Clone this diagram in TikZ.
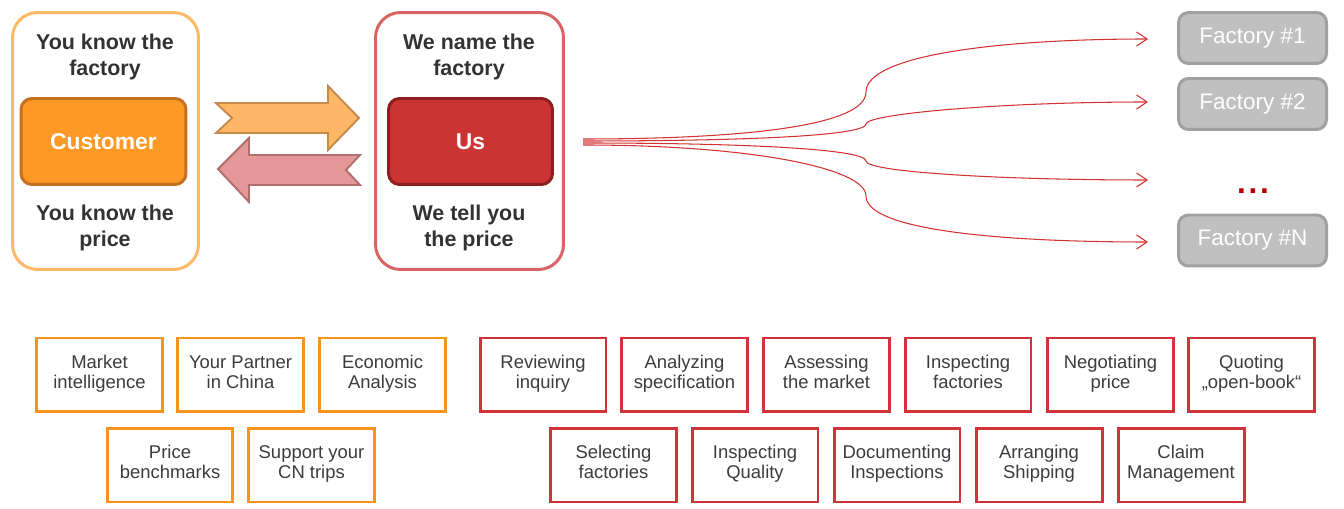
\documentclass[tikz,border=0pt]{standalone}
\usepackage{fontspec}
\setmainfont{Liberation Sans}
\usetikzlibrary{arrows.meta,positioning}

\definecolor{custlight}{RGB}{255,184,102}
\definecolor{custfill}{RGB}{255,153,38}
\definecolor{custdark}{RGB}{196,112,30}
\definecolor{uslight}{RGB}{217,100,100}
\definecolor{usfill}{RGB}{204,51,51}
\definecolor{usdark}{RGB}{140,32,32}
\definecolor{arrorange}{RGB}{255,183,102}
\definecolor{arrorangedark}{RGB}{196,138,76}
\definecolor{arrred}{RGB}{228,152,152}
\definecolor{arrreddark}{RGB}{176,110,110}
\definecolor{fanred}{RGB}{210,50,50}
\definecolor{facfill}{RGB}{192,192,192}
\definecolor{facborder}{RGB}{160,160,160}
\definecolor{dotred}{RGB}{180,0,0}
\definecolor{taskorange}{RGB}{247,148,29}
\definecolor{taskred}{RGB}{208,52,58}
\definecolor{txtdark}{RGB}{50,50,50}
\definecolor{txtgray}{RGB}{60,60,60}

\begin{document}
\begin{tikzpicture}[
    x=0.02cm, y=-0.02cm,
    side/.style={draw, line width=1.7pt, rounded corners=0.5cm, minimum width=3.72cm, minimum height=5.14cm},
    who/.style={draw, line width=1.7pt, rounded corners=0.22cm, minimum width=3.3cm, minimum height=1.72cm, text=white, font=\fontsize{13}{15}\selectfont\bfseries},
    claim/.style={align=center, text=txtdark, font=\fontsize{12.2}{14.7}\selectfont\bfseries},
    factory/.style={draw=facborder, fill=facfill, line width=1.7pt, rounded corners=0.2cm, minimum width=2.96cm, minimum height=1.02cm, text=white, font=\fontsize{12.8}{14}\selectfont},
    task/.style={draw, line width=1.7pt, minimum width=2.52cm, minimum height=1.48cm, align=center, execute at begin node=\strut, text=txtgray, font=\fontsize{10.5}{11.3}\selectfont},
    fan/.style={draw=fanred, line width=0.6pt, -{Straight Barb[length=6pt,width=8pt]}}
]
    \useasboundingbox (0,0) rectangle (1344,509);

    % Customer side
    \node[side, draw=custlight] (custside) at (105.5,141) {};
    \node[claim] (custfac) at (105,57) {You know the\\factory};
    \node[who, fill=custfill, draw=custdark] (cust) at (103.5,141.5) {Customer};
    \node[claim] (custprice) at (105,228) {You know the\\price};

    % Our side
    \node[side, draw=uslight, minimum width=3.76cm] (usside) at (469.5,141) {};
    \node[claim] (usfac) at (469,57) {We name the\\factory};
    \node[who, fill=usfill, draw=usdark, minimum width=3.28cm] (us) at (470.5,141.5) {Us};
    \node[claim] (usprice) at (469,228) {We tell you\\the price};

    % Block arrows
    \draw[fill=arrorange, draw=arrorangedark, line width=1.1pt]
        (216,103) -- (328,103) -- (328,86) -- (359,118) -- (328,150) -- (328,133) -- (216,133) -- (232,118) -- cycle;
    \draw[fill=arrred, draw=arrreddark, line width=1.1pt]
        (218,169) -- (249,138) -- (249,155) -- (360,155) -- (346,170) -- (360,185) -- (249,185) -- (249,202) -- cycle;

    % Factories
    \node[factory] (f1) at (1252.5,38) {Factory \#1};
    \node[factory] (f2) at (1252.5,104) {Factory \#2};
    \node[text=dotred, font=\fontsize{18}{20}\selectfont\bfseries] (fdots) at (1253,191) {.\kern1.5pt.\kern1.5pt.};
    \node[factory] (fn) at (1252.5,240.5) {Factory \#N};

    \coordinate (src1) at (583,139);
    \coordinate (src2) at (583,141);
    \coordinate (src3) at (583,143);
    \coordinate (src4) at (583,145);
    \coordinate (t1) at (1148,39);
    \coordinate (t2) at (1148,102);
    \coordinate (t3) at (1148,180);
    \coordinate (t4) at (1148,242);

    \draw[fan] (src1) .. controls (750,139) and (866,125) .. (866,92) .. controls (866,55) and (1000,39) .. (t1);
    \draw[fan] (src2) .. controls (760,141) and (866,135) .. (866,124) .. controls (866,114) and (1000,102) .. (t2);
    \draw[fan] (src3) .. controls (760,143) and (866,150) .. (866,161) .. controls (866,172) and (1000,180) .. (t3);
    \draw[fan] (src4) .. controls (750,145) and (866,168) .. (866,196) .. controls (866,230) and (1000,242) .. (t4);

    % Customer services
    \node[task, draw=taskorange] (o1) at (99.5,375) {Market\\intelligence\strut};
    \node[task, draw=taskorange] (o2) at (240.5,375) {Your Partner\\in China\strut};
    \node[task, draw=taskorange] (o3) at (382.5,375) {Economic\\Analysis\strut};
    \node[task, draw=taskorange] (o4) at (170,465) {Price\\benchmarks\strut};
    \node[task, draw=taskorange] (o5) at (311.5,465) {Support your\\CN trips\strut};

    % Our services
    \node[task, draw=taskred] (r1) at (543,375) {Reviewing\\inquiry\strut};
    \node[task, draw=taskred] (r2) at (684.5,375) {Analyzing\\specification\strut};
    \node[task, draw=taskred] (r3) at (826.5,375) {Assessing\\the market\strut};
    \node[task, draw=taskred] (r4) at (968,375) {Inspecting\\factories\strut};
    \node[task, draw=taskred] (r5) at (1110.5,375) {Negotiating\\price\strut};
    \node[task, draw=taskred] (r6) at (1251.5,375) {Quoting\\„open-book“\strut};
    \node[task, draw=taskred] (r7) at (613.5,465) {Selecting\\factories\strut};
    \node[task, draw=taskred] (r8) at (755,465) {Inspecting\\Quality\strut};
    \node[task, draw=taskred] (r9) at (897,465) {Documenting\\Inspections\strut};
    \node[task, draw=taskred] (r10) at (1039,465) {Arranging\\Shipping\strut};
    \node[task, draw=taskred] (r11) at (1181,465) {Claim\\Management\strut};
\end{tikzpicture}
\end{document}
